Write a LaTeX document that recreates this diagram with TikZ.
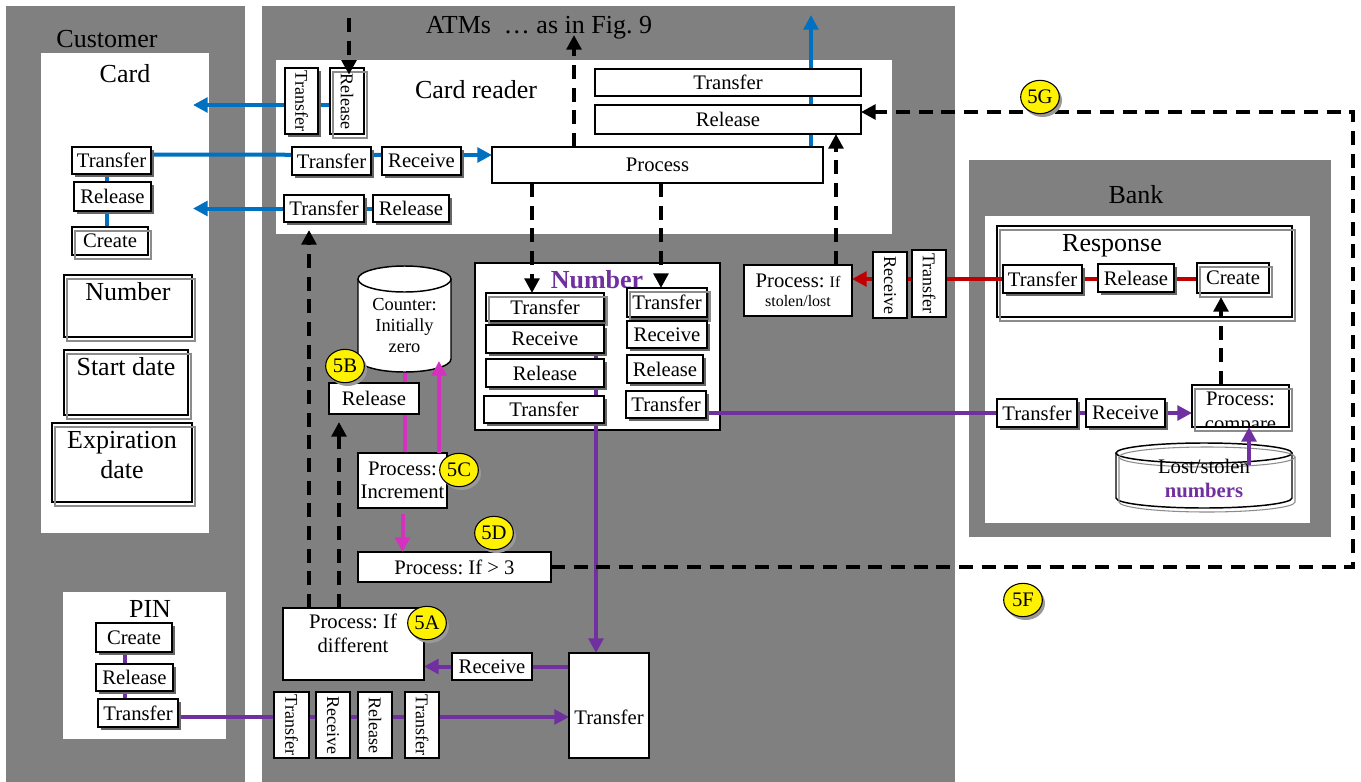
\documentclass[tikz,border=0pt]{standalone}
\usepackage{fontspec}
\setmainfont{Liberation Serif}
\usepackage{graphicx}
\usetikzlibrary{arrows.meta,shapes.geometric,shadows}
\frenchspacing
\definecolor{pgray}{HTML}{808080}
\definecolor{bluec}{HTML}{0070C0}
\definecolor{redc}{HTML}{C00000}
\definecolor{purc}{HTML}{7030A0}
\definecolor{magc}{RGB}{214,48,192}
\newcommand\szbox{\fontsize{15.5pt}{18pt}\selectfont}
\newcommand\sztitle{\fontsize{19.5pt}{22.5pt}\selectfont}
\newcommand\szv{\fontsize{13.5pt}{16pt}\selectfont}
\newcommand\szsmall{\fontsize{12pt}{14.25pt}\selectfont}
\newcommand\szcnt{\fontsize{13.8pt}{15.75pt}\selectfont}
\pgfdeclarelayer{panel}
\pgfdeclarelayer{conn}
\pgfsetlayers{panel,conn,main}
\tikzset{
 bx/.style={draw=black,fill=white,line width=1.1pt,inner sep=0pt,outer sep=0pt,font=\szbox,align=center},
 shd/.style={drop shadow={shadow xshift=2.4pt,shadow yshift=-2.4pt,fill=black!60,opacity=1}},
 pnl/.style={draw=none,fill=pgray},
 pnlw/.style={draw=none,fill=white},
 ttl/.style={font=\sztitle,inner sep=0pt,anchor=base},
 txt/.style={inner sep=0pt,align=center},
 dblc/.style={draw=black!45,line width=0.8pt},
 cyl/.style={draw=black,line width=1.1pt},
 arr/.style={-{Triangle[length=11pt,width=11pt]}},
 bl/.style={draw=bluec,line width=3pt},
 rd/.style={draw=redc,line width=3pt},
 pu/.style={draw=purc,line width=3pt},
 mg/.style={draw=magc,line width=3pt},
 dsh/.style={draw=black,line width=3pt,dash pattern=on 10.5pt off 6.5pt},
 badge/.style={ellipse,draw=black,line width=0.8pt,fill=yellow,minimum width=29pt,minimum height=25pt,inner sep=0pt,font=\szbox,drop shadow={shadow xshift=2pt,shadow yshift=-2.5pt,fill=black!40,opacity=1}},
}
% [opts]{name}{x1}{y1}{x2}{y2}{text}
\newcommand\mybox[7][]{\node[bx,#1,minimum width={(#5-#3)*0.75pt},minimum height={(#6-#4)*0.75pt}] (#2) at ({(#3+#5)/2},{(#4+#6)/2}) {#7};}
\newcommand\dbl[1]{\draw[dblc] ([shift={(3,4)}]#1.north west) rectangle ([shift={(3,4)}]#1.south east);}
\begin{document}
\begin{tikzpicture}[x=0.75pt,y=-0.75pt]
\useasboundingbox (0,0) rectangle (1361,782);
\begin{pgfonlayer}{panel}
\fill[white] (0,0) rectangle (1361,782);
\mybox[pnl]{pcust}{6}{6}{245}{782}{}
\mybox[pnl]{patm}{262}{6}{955}{782}{}
\mybox[pnl]{pbank}{969}{160}{1331}{537}{}
\mybox[pnlw]{pcard}{41}{53}{209}{533}{}
\mybox[pnlw]{pcr}{276}{60}{892}{234}{}
\mybox[pnlw]{pbankw}{985}{216}{1310}{523}{}
\mybox[pnlw]{ppin}{63}{592}{226}{739}{}
\mybox{numb}{475}{263}{720}{430}{}
\mybox[fill=none]{resp}{997}{226}{1292}{317}{}
\dbl{resp}
\end{pgfonlayer}
% titles
\node[ttl] (tcust) at (107,47) {Customer};
\node[ttl] (tatm) at (539,33) {ATMs\ \ … as in Fig. 9};
\node[ttl] (tcard) at (125,82) {Card};
\node[ttl] (tcr) at (476,98) {Card reader};
\node[ttl] (tbank) at (1136,203) {Bank};
\node[ttl] (tresp) at (1112,251) {Response};
\node[ttl] (tpin) at (150,617) {PIN};
\node[ttl,font=\sztitle\bfseries,text=purc] (tnum) at (597,288) {Number};
% card
\mybox[shd]{ctr}{72}{147}{151}{174}{Transfer}
\mybox[shd]{crel}{74}{182}{151}{211}{Release}
\mybox{ccre}{72}{227}{148}{255}{Create}\dbl{ccre}
\mybox{cnum}{64}{275}{192}{337}{}\dbl{cnum}
\node[ttl] (cnumt) at (128,300) {Number};
\mybox{csd}{64}{350}{188}{415}{}\dbl{csd}
\node[ttl] (csdt) at (126,375) {Start date};
\mybox{cexp}{52}{423}{192}{502}{}\dbl{cexp}
\node[txt,font=\sztitle] (cexpt) at (122,455) {Expiration\\date};
% card reader
\mybox[shd]{vtrA}{285}{68}{318}{134}{{\szv\rotatebox{-90}{Transfer}}}
\mybox{relA}{330}{68}{364}{134}{{\szv\rotatebox{-90}{Release}}}\dbl{relA}
\mybox[shd]{crtr}{292}{147}{371}{175}{Transfer}
\mybox[shd]{crrec}{382}{147}{461}{175}{Receive}
\mybox{proc}{492}{147}{823}{183}{Process}
\mybox{wtr}{595}{69}{861}{96}{Transfer}
\mybox{wrel}{595}{105}{861}{134}{Release}
\mybox[shd]{crtr2}{284}{195}{364}{222}{Transfer}
\mybox[shd]{crrel2}{373}{195}{449}{222}{Release}
% number
\mybox[shd]{n1}{486}{293}{604}{321}{Transfer}\dbl{n1}
\mybox[shd]{n2}{486}{325}{604}{353}{Receive}
\mybox[shd]{n3}{486}{359}{604}{387}{Release}
\mybox[shd]{n4}{484}{396}{604}{423}{Transfer}
\mybox[shd]{n5}{627}{288}{707}{317}{Transfer}\dbl{n5}
\mybox[shd]{n6}{627}{321}{707}{348}{Receive}
\mybox[shd]{n7}{627}{355}{703}{383}{Release}
\mybox[shd]{n8}{626}{391}{706}{418}{Transfer}
% counter
\node[inner sep=0pt,minimum width=69.75pt,minimum height=79.5pt] (counter) at (404.5,319) {};
\fill[white] (358,279) rectangle (451,359);
\fill[white] (404.5,359) ellipse[x radius=34.875pt,y radius=9.75pt];
\draw[cyl] (358,279) -- (358,359) arc[start angle=180,end angle=360,x radius=34.875pt,y radius=9.75pt] -- (451,279);
\draw[cyl,fill=white] (404.5,279) ellipse[x radius=34.875pt,y radius=9.75pt];
\node[txt,font=\szcnt] (countert) at (404.5,325) {Counter:\\Initially\\zero};
\mybox{rel5}{329}{383}{419}{414}{Release}
\mybox[font=\fontsize{15.5pt}{17.25pt}\selectfont]{inc}{358}{453}{447}{508}{Process:\\Increment}
\mybox{gt3}{358}{552}{551}{582}{Process: If > 3}
\mybox{pdiff}{283}{608}{424}{680}{}
\node[txt,font=\szbox] (pdifft) at (353,633) {Process: If\\different};
\mybox{prec}{452}{653}{532}{680}{Receive}
\mybox{bigtr}{569}{653}{649}{758}{}
\node[txt,font=\szbox] (bigtrt) at (609,717) {Transfer};
\mybox{v1}{274}{692}{309}{758}{{\szv\rotatebox{-90}{Transfer}}}
\mybox{v2}{316}{692}{350}{758}{{\szv\rotatebox{-90}{Receive}}}
\mybox{v3}{358}{692}{392}{758}{{\szv\rotatebox{-90}{Release}}}
\mybox{v4}{405}{692}{439}{758}{{\szv\rotatebox{-90}{Transfer}}}
% PIN
\mybox[shd]{pcre}{96}{623}{172}{652}{Create}
\mybox[shd]{prel}{96}{664}{173}{691}{Release}
\mybox[shd]{ptr}{98}{699}{178}{727}{Transfer}
% stolen
\mybox[font=\fontsize{15.5pt}{14.25pt}\selectfont]{stolen}{744}{265}{852}{316}{Process: {\szsmall If}\\{\szsmall stolen/lost}}
\mybox{svrec}{873}{252}{907}{318}{{\szv\rotatebox{-90}{Receive}}}
\mybox{svtr}{912}{250}{946}{317}{{\szv\rotatebox{-90}{Transfer}}}
% bank
\mybox[shd]{rtr}{1003}{265}{1082}{293}{Transfer}
\mybox[shd]{rrel}{1098}{264}{1174}{292}{Release}
\mybox{rcre}{1197}{263}{1269}{293}{Create}\dbl{rcre}
\mybox[shd]{btr}{997}{399}{1077}{427}{Transfer}
\mybox[shd]{brec}{1086}{399}{1165}{427}{Receive}
\mybox{cmp}{1192}{385}{1289}{427}{}
\begin{scope}
\clip (cmp.north west) rectangle (cmp.south east);
\node[txt,font=\fontsize{15.5pt}{18.75pt}\selectfont] (cmpt) at (1240.5,413) {Process:\\compare};
\end{scope}
\dbl{cmp}
% lost/stolen cylinder
\node[inner sep=0pt,minimum width=132pt,minimum height=48.75pt] (lost) at (1204,475.5) {};
\fill[white] (1116,453) rectangle (1292,498);
\fill[white] (1204,498) ellipse[x radius=66pt,y radius=7.5pt];
\draw[cyl] (1116,453) -- (1116,498) arc[start angle=180,end angle=360,x radius=66pt,y radius=7.5pt] -- (1292,453);
\draw[cyl,fill=white] (1204,453) ellipse[x radius=66pt,y radius=7.5pt];
\draw[dblc] (1119,457) -- (1119,502) arc[start angle=180,end angle=360,x radius=66pt,y radius=7.5pt] -- (1295,457);
\draw[dblc] (1207,457) ellipse[x radius=66pt,y radius=7.5pt];
\node[txt,font=\szbox] (lostt) at (1204,478) {Lost/stolen\\\textbf{\color{purc}numbers}};
% helper coordinates
\coordinate (cA) at (193,105);
\coordinate (cB) at (193,209);
\coordinate (cTop) at (811,15);
\coordinate (nl) at (596,310);
\coordinate (la) at (1249,465);
\coordinate (ctrb) at (439,361);
\coordinate (xA) at (532,0);
\coordinate (xB) at (661,0);
\coordinate (cUp) at (574,35);
\coordinate (cDn) at (349,18);
\coordinate (xD) at (836,0);
\coordinate (xE) at (309,0);
\coordinate (xG) at (339,0);
\coordinate (xF) at (1221,0);
\coordinate (fR) at (1353,112);
% colored connectors behind boxes
\begin{pgfonlayer}{conn}
\draw[bl,arr] (relA.center |- cA) -- (cA);
\draw[bl] ([yshift=4.5pt]ctr.east) -- ([yshift=4.5pt]crrec.center);
\draw[bl,arr] ([yshift=4.5pt]crrec.east) -- ([yshift=4.5pt]crrec.east -| proc.west);
\draw[bl,arr] (crrel2.center) -- (cB |- crrel2.center);
\draw[bl] ([xshift=-3.4pt]ctr.center) -- ([xshift=-3.4pt]ctr.center |- ccre.center);
\draw[bl,arr] (proc.north -| cTop) -- (cTop);
\draw[rd] (rcre.center |- rtr.center) -- (svrec.center |- rtr.center);
\draw[rd,arr] (svrec.west |- rtr.center) -- (stolen.east |- rtr.center);
\draw[pu] ([xshift=-6.75pt]pcre.center) -- ([xshift=-6.75pt]pcre.center |- ptr.center);
\draw[pu,arr] ([yshift=-3pt]ptr.east) -- ([yshift=-3pt]ptr.east -| bigtr.west);
\draw[pu,arr] (nl) -- (nl |- bigtr.north);
\draw[pu] (bigtr.west |- prec.center) -- (prec.east);
\draw[pu,arr] (prec.west) -- (prec.west -| pdiff.east);
\draw[pu] (n8.east |- btr.center) -- (brec.center);
\draw[pu,arr] (brec.east) -- (brec.east -| cmp.west);
\draw[mg] (counter.south) -- (counter.south |- inc.north);
\end{pgfonlayer}
\draw[mg,arr] (inc.north -| ctrb) -- (ctrb);
\draw[mg,arr] ([yshift=-4.5pt]inc.south) -- (inc.south |- gt3.north);
\draw[pu,arr] (la) -- (la |- cmp.south);
% dashed control arrows
\draw[dsh,arr] (proc.south -| xA) -- (n1.north -| xA);
\draw[dsh,arr] (proc.south -| xB) -- (n5.north -| xB);
\draw[dsh,arr] (proc.north -| cUp) -- (cUp);
\draw[dsh,arr,shorten >=-5pt] (cDn) -- (cDn |- relA.north);
\draw[dsh,arr] (stolen.north -| xD) -- (wrel.south -| xD);
\draw[dsh,arr,shorten >=6pt] (pdiff.north -| xE) -- (crtr2.south -| xE);
\draw[dsh,arr,shorten >=6pt] (pdiff.north -| xG) -- (rel5.south -| xG);
\draw[dsh,arr] (gt3.east) -| (fR) -- (fR -| wrel.east);
\draw[dsh,arr,shorten >=3pt] (cmp.north -| xF) -- (rcre.south -| xF);
% badges
\node[badge] (b5g) at (1040,97) {5G};
\node[badge] (b5b) at (345,366) {5B};
\node[badge] (b5c) at (459,470) {5C};
\node[badge] (b5d) at (494,533) {5D};
\node[badge] (b5a) at (427,623) {5A};
\node[badge] (b5f) at (1023,600) {5F};
\end{tikzpicture}
\end{document}
